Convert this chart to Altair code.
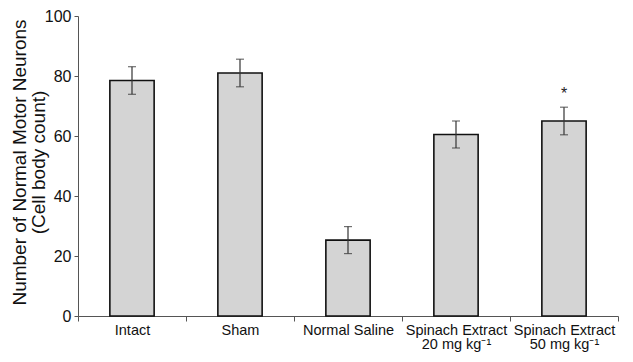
import altair as alt
import pandas as pd

groups = ["Intact", "Sham", "Normal Saline",
          "Spinach Extract\n20 mg kg⁻¹", "Spinach Extract\n50 mg kg⁻¹"]
means = [78.5, 81.0, 25.3, 60.5, 65.0]
errors = [4.6, 4.6, 4.5, 4.5, 4.6]
marks = ["", "", "", "", "*"]

df = pd.DataFrame({"group": groups, "mean": means, "err": errors, "mark": marks})
df["lo"] = df["mean"] - df["err"]
df["hi"] = df["mean"] + df["err"]

FONT = "Liberation Sans"

x = alt.X("group:N", sort=groups,
          scale=alt.Scale(paddingInner=0, paddingOuter=0),
          axis=alt.Axis(title=None, labelAngle=0, tickBand="extent",
                        labelExpr="split(datum.label, '\\n')",
                        labelFontSize=14.5, labelPadding=2, labelLineHeight=14.5,
                        tickSize=5, labelColor="#111"))

y_axis = alt.Axis(title=["Number of Normal Motor Neurons", "(Cell body count)"],
                  values=[0, 20, 40, 60, 80, 100], grid=False,
                  tickSize=4, labelFontSize=16, labelPadding=3, labelColor="#111",
                  titleFontSize=19, titleFontWeight="normal", titleColor="#111",
                  titleAngle=270, titleBaseline="middle", titleAlign="center",
                  titleX=-59, titleY=146, titleLineHeight=19)

base = alt.Chart(df)

bars = base.mark_bar(width=alt.RelativeBandSize(0.41), fill="#d4d4d4",
                     stroke="#111111", strokeWidth=1.6).encode(
    x=x,
    y=alt.Y("mean:Q", scale=alt.Scale(domain=[0, 100], nice=False), axis=y_axis),
)

rule = base.mark_rule(color="#333333", strokeWidth=1.2).encode(
    x=x, y="lo:Q", y2="hi:Q")

cap_hi = base.mark_tick(size=8, thickness=1.2, color="#333333").encode(x=x, y="hi:Q")
cap_lo = base.mark_tick(size=8, thickness=1.2, color="#333333").encode(x=x, y="lo:Q")

star = base.mark_text(dy=-13, fontSize=16, font=FONT, color="#222222").encode(
    x=x, y="hi:Q", text="mark:N")

chart = alt.layer(bars, rule, cap_hi, cap_lo, star).properties(
    width=540, height=300,
    autosize=alt.AutoSizeParams(type="none"),
    padding={"left": 70, "top": 8, "right": 7, "bottom": 38},
).configure_view(stroke=None).configure_axis(
    labelFont=FONT, titleFont=FONT, domainColor="#555555", tickColor="#555555",
    domainWidth=1, tickWidth=1,
)

chart.save("out.html", embed_options={"renderer": "svg", "actions": False})
